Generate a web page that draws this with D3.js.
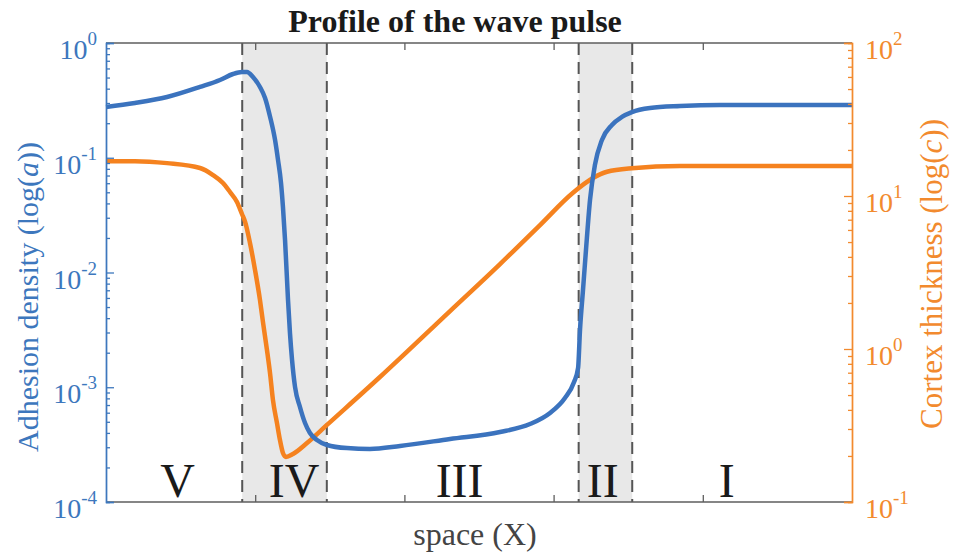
<!DOCTYPE html>
<html>
<head>
<meta charset="utf-8">
<script src="https://cdn.jsdelivr.net/npm/d3@7/dist/d3.min.js"></script>
<style>
  html, body { margin: 0; padding: 0; background: #fff; }
  svg { display: block; }
  text { font-family: "Liberation Serif", "Times New Roman", serif; }
</style>
</head>
<body>
<svg id="chart" width="953" height="552"></svg>
<script>
// Position along the pulse (arbitrary units)
const xsA = [0, 19.4, 40.9, 63.0, 76.4, 85.1, 91.2, 94.5, 98.5, 103.2, 106.6, 110.0, 113.3, 115.3,
  117.3, 118.6, 120.0, 122.0, 123.3, 124.7, 126.7, 130.0, 133.4, 136.7, 141.4, 148.1, 161.5, 176.9,
  197.1, 230.6, 264.1, 284.2, 297.6, 307.6, 313.7, 316.4, 317.7, 319.7, 321.7, 324.4, 327.7, 332.4,
  339.1, 345.8, 352.5, 364.6, 384.7, 411.5, 500];
// Adhesion density a
const adhesion = [0.277, 0.300, 0.338, 0.414, 0.476, 0.537, 0.559, 0.559, 0.505, 0.414, 0.332, 0.2265,
  0.1428, 0.0956, 0.0603, 0.0372, 0.0192, 0.00576, 0.00297, 0.00173, 1.005e-3, 6.73e-4, 4.88e-4,
  3.99e-4, 3.47e-4, 3.14e-4, 2.95e-4, 2.90e-4, 3.08e-4, 3.54e-4, 4.07e-4, 4.78e-4, 5.97e-4, 8.06e-4,
  1.11e-3, 1.47e-3, 3.16e-3, 7.04e-3, 0.0157, 0.0428, 0.0865, 0.143, 0.193, 0.227, 0.250, 0.271,
  0.282, 0.288, 0.288];

const xsC = [0, 19.4, 40.9, 63.0, 71.7, 78.4, 83.1, 87.8, 91.2, 93.2, 96.5, 99.9, 103.2, 105.2, 107.9,
  110.0, 111.9, 114.6, 116.6, 118.6, 120.6, 125.3, 134.7, 148.1, 183.6, 230.6, 264.1, 290.9, 313.0,
  326.4, 335.8, 352.5, 384.7, 500];
// Cortex thickness c
const cortex = [16.9, 16.9, 16.4, 15.24, 13.71, 12.16, 10.62, 9.14, 7.6, 6.8, 4.93, 3.28, 2.09, 1.50,
  0.984, 0.687, 0.464, 0.328, 0.254, 0.209, 0.197, 0.206, 0.243, 0.319, 0.656, 1.77, 3.59, 6.46, 10.5,
  13.1, 14.4, 15.2, 15.7, 15.7];

// Region boundaries and region names
const boundaries = [91.3, 148.0, 316.8, 352.7];
const shadedRegions = [[91.3, 148.0], [316.8, 352.7]];
const regionNames = ["V", "IV", "III", "II", "I"];
const regionLabelX = [48, 126, 237, 333, 416];

const xTicks = [100, 200, 300, 400];
const leftDecades = [-4, -3, -2, -1, 0];
const rightDecades = [-1, 0, 1, 2];

const blue = "#3b73be";
const orange = "#f5821f";
const axisBlue = "#3d77bd";
const axisOrange = "#f28a2e";
const boxGray = "#5e5e5e";

const svg = d3.select("#chart");
const L = 106, R = 852, T = 43, B = 502;

const x = d3.scaleLinear().domain([0, 500]).range([L, R]);
const yA = d3.scaleLog().domain([1e-4, 1]).range([B, T]);
const yC = d3.scaleLog().domain([0.1, 100]).range([B, T]);

// shaded transition zones
svg.append("g").selectAll("rect").data(shadedRegions).join("rect")
  .attr("x", d => x(d[0])).attr("y", T)
  .attr("width", d => x(d[1]) - x(d[0])).attr("height", B - T)
  .attr("fill", "#e8e8e8");

// region boundaries
svg.append("g").selectAll("line").data(boundaries).join("line")
  .attr("x1", d => x(d)).attr("x2", d => x(d))
  .attr("y1", T).attr("y2", B)
  .attr("stroke", "#555").attr("stroke-width", 2)
  .attr("stroke-dasharray", "12,7");

// region names
svg.append("g").selectAll("text").data(regionNames).join("text")
  .attr("x", (d, i) => x(regionLabelX[i])).attr("y", 497)
  .attr("text-anchor", "middle").attr("font-size", 48).attr("fill", "#1a1a1a")
  .text(d => d);

// curves
const lineC = d3.line().x((d, i) => x(xsC[i])).y(d => yC(d)).curve(d3.curveMonotoneX);
const lineA = d3.line().x((d, i) => x(xsA[i])).y(d => yA(d)).curve(d3.curveMonotoneX);

svg.append("path").attr("d", lineC(cortex)).attr("fill", "none")
  .attr("stroke", orange).attr("stroke-width", 4.5).attr("stroke-linejoin", "round");
svg.append("path").attr("d", lineA(adhesion)).attr("fill", "none")
  .attr("stroke", blue).attr("stroke-width", 4.5).attr("stroke-linejoin", "round");

// box top / bottom
const frame = svg.append("g");
frame.append("line").attr("x1", L).attr("x2", R).attr("y1", T).attr("y2", T)
  .attr("stroke", boxGray).attr("stroke-width", 1.3);
frame.append("line").attr("x1", L).attr("x2", R).attr("y1", B).attr("y2", B)
  .attr("stroke", boxGray).attr("stroke-width", 1.3);

// x ticks (no labels), inward on both top and bottom
const xb = svg.append("g").attr("transform", `translate(0,${B})`)
  .call(d3.axisTop(x).tickValues(xTicks).tickSize(7).tickFormat(""));
const xt = svg.append("g").attr("transform", `translate(0,${T})`)
  .call(d3.axisBottom(x).tickValues(xTicks).tickSize(7).tickFormat(""));
[xb, xt].forEach(g => {
  g.select(".domain").remove();
  g.selectAll(".tick line").attr("stroke", boxGray).attr("stroke-width", 1.3);
});

function minorValues(decades) {
  const out = [];
  for (let k = 0; k < decades.length - 1; k++) {
    for (let m = 2; m <= 9; m++) out.push(m * Math.pow(10, decades[k]));
  }
  return out;
}

function logAxis(scale, decades, xpos, color, side) {
  const g = svg.append("g").attr("transform", `translate(${xpos},0)`);
  const mk = side === "left" ? d3.axisRight : d3.axisLeft;
  g.append("g").call(mk(scale).tickValues(decades.map(d => Math.pow(10, d))).tickSize(8).tickFormat(""));
  g.append("g").call(mk(scale).tickValues(minorValues(decades)).tickSize(4).tickFormat(""));
  g.selectAll(".domain").attr("stroke", color).attr("stroke-width", 1.4);
  g.selectAll(".tick line").attr("stroke", color).attr("stroke-width", 1.3);
  // labels 10^n
  const lab = svg.append("g").selectAll("text").data(decades).join("text")
    .attr("x", side === "left" ? xpos - 9 : xpos + 13)
    .attr("y", d => scale(Math.pow(10, d)) + 16)
    .attr("text-anchor", side === "left" ? "end" : "start")
    .attr("font-size", 28).attr("fill", color);
  lab.append("tspan").text("10");
  lab.append("tspan").attr("dy", -14).attr("font-size", 19).text(d => d < 0 ? "-" + (-d) : String(d));
}

logAxis(yA, leftDecades, L, axisBlue, "left");
logAxis(yC, rightDecades, R, axisOrange, "right");

// titles
svg.append("text").attr("x", 455).attr("y", 32).attr("text-anchor", "middle")
  .attr("font-size", 32).attr("font-weight", "bold").attr("fill", "#1a1a1a")
  .text("Profile of the wave pulse");

svg.append("text").attr("x", 475).attr("y", 545).attr("text-anchor", "middle")
  .attr("font-size", 32).attr("fill", "#444")
  .text("space (X)");

const yl = svg.append("text").attr("transform", "translate(38,297) rotate(-90)")
  .attr("text-anchor", "middle").attr("font-size", 30).attr("fill", axisBlue);
yl.append("tspan").text("Adhesion density (log(");
yl.append("tspan").attr("font-style", "italic").text("a");
yl.append("tspan").text("))");

const yr = svg.append("text").attr("transform", "translate(942,274) rotate(-90)")
  .attr("text-anchor", "middle").attr("font-size", 31).attr("fill", axisOrange);
yr.append("tspan").text("Cortex thickness (log(");
yr.append("tspan").attr("font-style", "italic").text("c");
yr.append("tspan").text("))");
</script>
</body>
</html>
